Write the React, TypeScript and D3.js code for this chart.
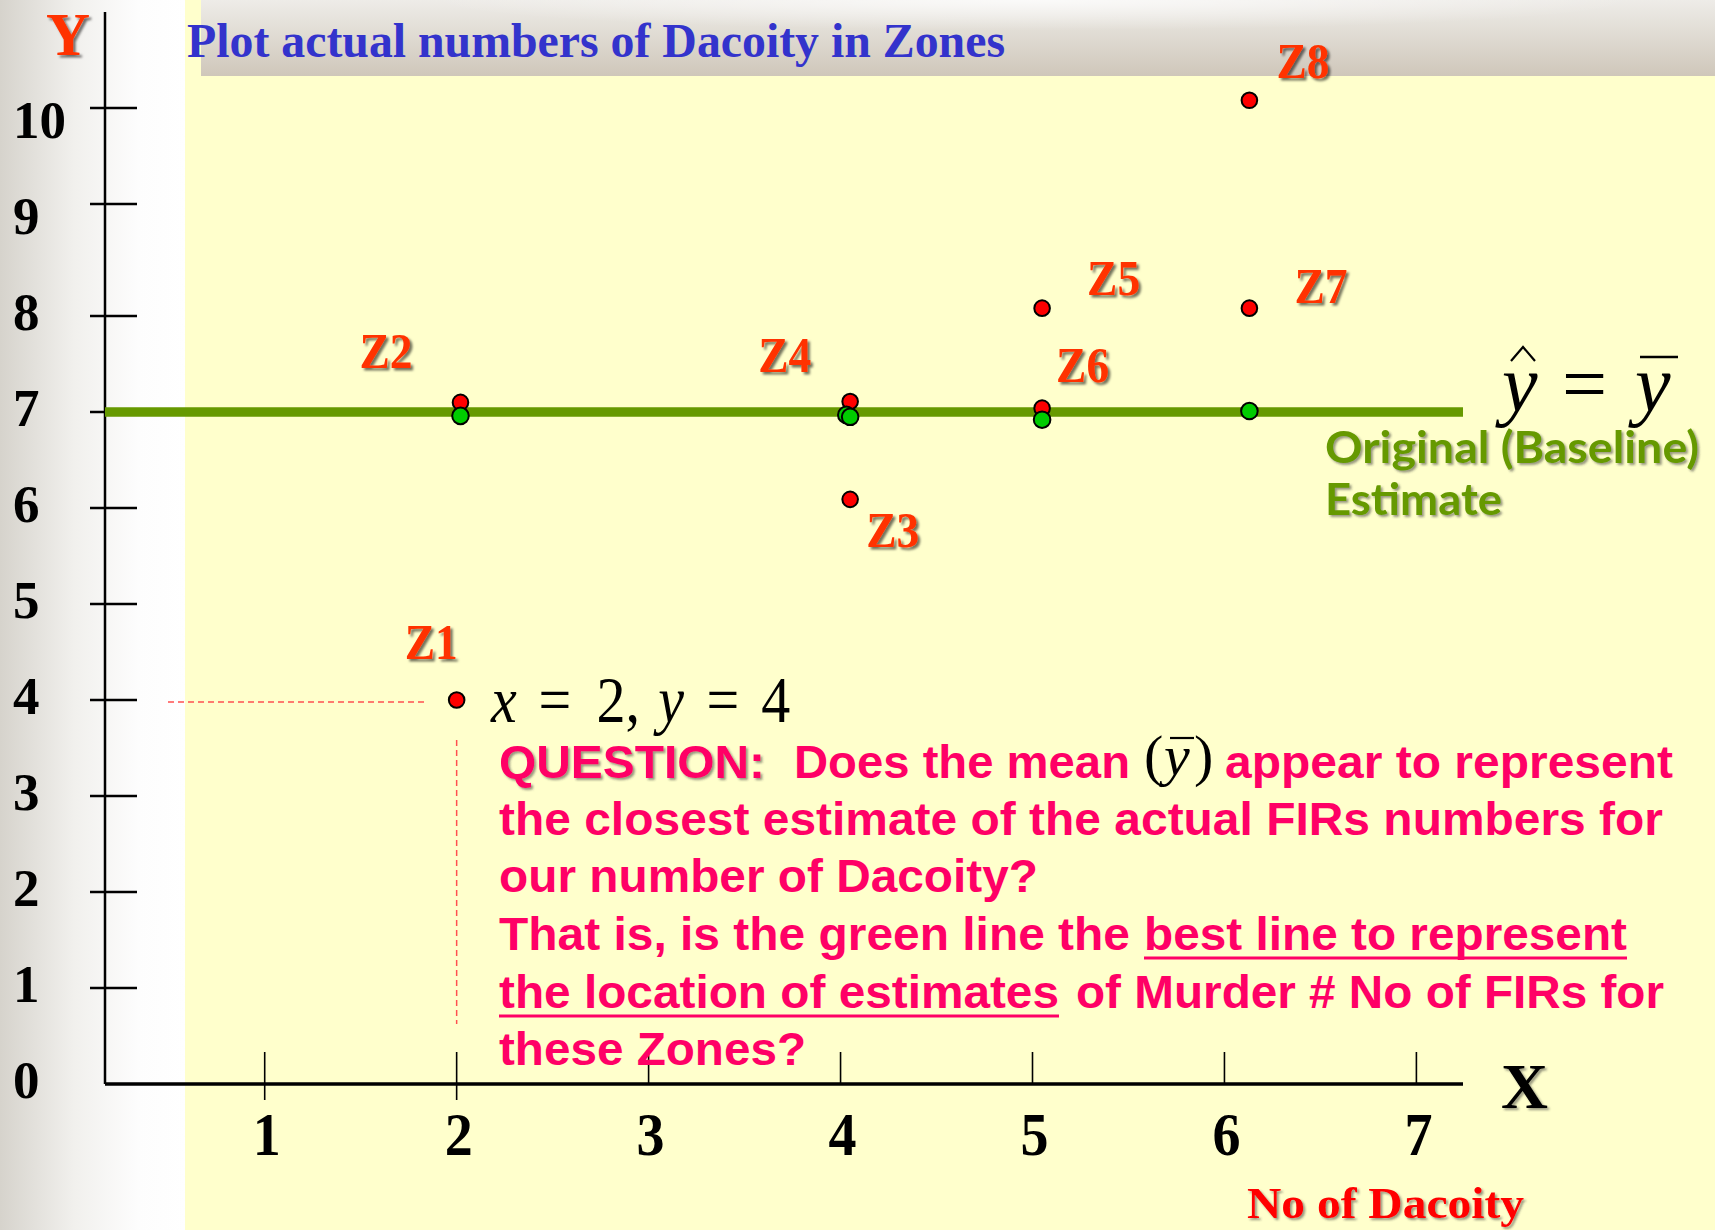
import React from "react";
import * as d3 from "d3";

// Zone observations: number of dacoity (x) against actual FIR count (y)
const zoneNames = ["Z1", "Z2", "Z3", "Z4", "Z5", "Z6", "Z7", "Z8"];
const zoneX = [2, 2.02, 4.05, 4.05, 5.05, 5.05, 6.13, 6.13];
const zoneY = [4, 7.1, 6.09, 7.11, 8.07, 7.04, 8.07, 10.08];

// Baseline estimate points sitting on the mean line
const estimateX = [2.02, 4.03, 4.05, 5.05, 6.13];
const estimateY = [6.96, 6.97, 6.95, 6.92, 7.01];

// Mean of y (baseline estimate)
const meanY = 7;

const xTickValues = [1, 2, 3, 4, 5, 6, 7];
const xTickLabels = ["1", "2", "3", "4", "5", "6", "7"];
const yTickValues = [1, 2, 3, 4, 5, 6, 7, 8, 9, 10];
const yTickLabels = ["0", "1", "2", "3", "4", "5", "6", "7", "8", "9", "10"];

const W = 1715;
const H = 1230;

// label placement relative to each zone's dot (left edge, baseline)
const labelOffsets: [number, number][] = [
  [-52, -41],
  [-101, -34],
  [16, 48],
  [-92, -29],
  [45, -13],
  [14, -26],
  [45, -5],
  [27, -22],
];

const AXIS_LEFT = 105;
const AXIS_RIGHT = 1463;
const AXIS_TOP = 12;

const x = d3.scaleLinear().domain([1, 7]).range([264.7, 1416.4]);
// hand-drawn axis: the upper ticks sit a little closer together
const y = d3.scaleLinear().domain([0, 8, 9, 10]).range([1084, 316, 204, 108]);
// tick numerals are evenly spaced
const yLabel = d3.scaleLinear().domain([0, 10]).range([1098, 138]);

const serif = "'Liberation Serif', 'Times New Roman', serif";
const sans = "'Liberation Sans', Arial, sans-serif";
const comic = "'Comic Sans MS', Lato, 'Open Sans', sans-serif";
const pink = "#FF0066";

export default function App() {
  const y0 = y(0);
  return (
    <svg
      width={W}
      height={H}
      viewBox={`0 0 ${W} ${H}`}
      style={{ position: "fixed", left: 0, top: 0, display: "block" }}
    >
      <defs>
        <linearGradient id="leftStrip" x1="0" x2="1" y1="0" y2="0">
          <stop offset="0" stopColor="#D6D3CC" />
          <stop offset="0.4" stopColor="#F1F0ED" />
          <stop offset="0.75" stopColor="#FDFDFD" />
          <stop offset="1" stopColor="#FFFFFF" />
        </linearGradient>
        <linearGradient id="band" x1="0" x2="0" y1="0" y2="1">
          <stop offset="0" stopColor="#EEECE8" />
          <stop offset="0.55" stopColor="#DDD8CF" />
          <stop offset="1" stopColor="#CFC7BA" />
        </linearGradient>
        <radialGradient id="bandShine" cx="0.55" cy="0" r="0.4">
          <stop offset="0" stopColor="#FFFFFF" stopOpacity="0.75" />
          <stop offset="1" stopColor="#FFFFFF" stopOpacity="0" />
        </radialGradient>
        <filter id="shadow" x="-20%" y="-20%" width="150%" height="150%">
          <feDropShadow dx="2.5" dy="2.5" stdDeviation="1.3" floodColor="#000" floodOpacity="0.55" />
        </filter>
        <filter id="shadowSoft" x="-20%" y="-20%" width="150%" height="150%">
          <feDropShadow dx="2" dy="2" stdDeviation="1" floodColor="#333" floodOpacity="0.5" />
        </filter>
      </defs>

      {/* backdrop */}
      <rect x={0} y={0} width={W} height={H} fill="#FFFFCC" />
      <rect x={0} y={0} width={185} height={H} fill="url(#leftStrip)" />
      <rect x={201} y={0} width={W - 201} height={76} fill="url(#band)" />
      <rect x={201} y={0} width={W - 201} height={76} fill="url(#bandShine)" />

      {/* title */}
      <text
        x={187}
        y={57}
        fontFamily={serif}
        fontWeight="bold"
        fontSize={48}
        fill="#3333CC"
        textLength={818}
        lengthAdjust="spacingAndGlyphs"
      >
        Plot actual numbers of Dacoity in Zones
      </text>

      {/* y axis */}
      <line x1={AXIS_LEFT} x2={AXIS_LEFT} y1={AXIS_TOP} y2={y0} stroke="#000" strokeWidth={2.5} />
      {yTickValues.map((v) => (
        <line key={"yt" + v} x1={90} x2={137} y1={y(v)} y2={y(v)} stroke="#000" strokeWidth={2.5} />
      ))}
      {yTickLabels.map((t, i) => (
        <text
          key={"yl" + t}
          x={13}
          y={yLabel(i)}
          fontFamily={serif}
          fontWeight="bold"
          fontSize={53}
          fill="#000"
        >
          {t}
        </text>
      ))}
      <text
        x={46}
        y={55}
        fontFamily={serif}
        fontWeight="bold"
        fontSize={61}
        fill="#FF3300"
        filter="url(#shadow)"
        textLength={44}
        lengthAdjust="spacingAndGlyphs"
      >
        Y
      </text>

      {/* x axis */}
      <line x1={AXIS_LEFT} x2={AXIS_RIGHT} y1={y0} y2={y0} stroke="#000" strokeWidth={3.5} />
      {xTickValues.map((v) => (
        <line
          key={"xt" + v}
          x1={x(v)}
          x2={x(v)}
          y1={y0 - 32}
          y2={v <= 2 ? y0 + 16 : y0}
          stroke="#000"
          strokeWidth={1.6}
        />
      ))}
      {xTickLabels.map((t, i) => (
        <text
          key={"xl" + t}
          x={x(xTickValues[i]) + 2}
          y={1155}
          textAnchor="middle"
          fontFamily={serif}
          fontWeight="bold"
          fontSize={62}
          fill="#000"
          textLength={28}
          lengthAdjust="spacingAndGlyphs"
        >
          {t}
        </text>
      ))}
      <text
        x={1501}
        y={1108}
        fontFamily={serif}
        fontWeight="bold"
        fontSize={64}
        fill="#000"
        filter="url(#shadowSoft)"
        textLength={47}
        lengthAdjust="spacingAndGlyphs"
      >
        X
      </text>
      <text
        x={1247}
        y={1218}
        fontFamily={serif}
        fontWeight="bold"
        fontSize={45}
        fill="#FF0000"
        filter="url(#shadowSoft)"
        textLength={277}
        lengthAdjust="spacingAndGlyphs"
      >
        No of Dacoity
      </text>

      {/* guide lines for Z1 */}
      <line
        x1={168}
        x2={x(zoneX[0]) - 32}
        y1={y(zoneY[0]) + 2}
        y2={y(zoneY[0]) + 2}
        stroke="#FF5050"
        strokeWidth={1.5}
        strokeDasharray="6 4"
      />
      <line
        x1={x(zoneX[0])}
        x2={x(zoneX[0])}
        y1={y(zoneY[0]) + 40}
        y2={1024}
        stroke="#FF5050"
        strokeWidth={1.5}
        strokeDasharray="6 4"
      />

      {/* mean line */}
      <line
        x1={AXIS_LEFT}
        x2={AXIS_RIGHT}
        y1={y(meanY)}
        y2={y(meanY)}
        stroke="#669900"
        strokeWidth={9.5}
      />

      {/* observed zones */}
      {zoneNames.map((n, i) => (
        <circle
          key={"p" + n}
          cx={x(zoneX[i])}
          cy={y(zoneY[i])}
          r={7.8}
          fill="#FF0000"
          stroke="#000"
          strokeWidth={2}
        />
      ))}
      {/* baseline estimates */}
      {estimateX.map((v, i) => (
        <circle
          key={"e" + i}
          cx={x(v)}
          cy={y(estimateY[i])}
          r={8.3}
          fill="#00CC00"
          stroke="#000"
          strokeWidth={2}
        />
      ))}

      {/* zone labels */}
      {zoneNames.map((n, i) => (
        <text
          key={"zl" + n}
          x={x(zoneX[i]) + labelOffsets[i][0]}
          y={y(zoneY[i]) + labelOffsets[i][1]}
          fontFamily={serif}
          fontWeight="bold"
          fontSize={50}
          fill="#FF3300"
          filter="url(#shadow)"
          textLength={53}
          lengthAdjust="spacingAndGlyphs"
        >
          {n}
        </text>
      ))}

      {/* y-hat = y-bar */}
      <g fontFamily={serif} fontSize={80} fill="#000">
        <text x={1502} y={411} fontStyle="italic">y</text>
        <path d="M1511 361 L1523 347 L1535 361" fill="none" stroke="#000" strokeWidth={2.2} />
        <text x={1562} y={411}>=</text>
        <text x={1635} y={411} fontStyle="italic">y</text>
        <line x1={1640} x2={1678} y1={357} y2={357} stroke="#000" strokeWidth={2.5} />
      </g>
      <g fontFamily={comic} fontWeight="bold" fontSize={44} fill="#669900" filter="url(#shadowSoft)">
        <text x={1325} y={463} textLength={374} lengthAdjust="spacingAndGlyphs">
          Original (Baseline)
        </text>
        <text x={1325} y={515} textLength={177} lengthAdjust="spacingAndGlyphs">
          Estimate
        </text>
      </g>

      {/* Z1 coordinates */}
      <g fontFamily={serif} fontSize={66} fill="#000" transform="translate(491,722) scale(0.88,1)">
        <text x={0} y={0} fontStyle="italic">x</text>
        <text x={54} y={0}>=</text>
        <text x={120} y={0}>2,</text>
        <text x={190} y={0} fontStyle="italic">y</text>
        <text x={245} y={0}>=</text>
        <text x={307} y={0}>4</text>
      </g>

      {/* question */}
      <g fontFamily={sans} fontWeight="bold" fontSize={47} fill={pink}>
        <text x={499} y={778} textLength={266} lengthAdjust="spacingAndGlyphs" filter="url(#shadowSoft)">
          QUESTION:
        </text>
        <text x={794} y={778} textLength={336} lengthAdjust="spacingAndGlyphs">
          Does the mean
        </text>
        <text x={1225} y={778} textLength={448} lengthAdjust="spacingAndGlyphs">
          appear to represent
        </text>
        <text x={499} y={835} textLength={1164} lengthAdjust="spacingAndGlyphs">
          the closest estimate of the actual FIRs numbers for
        </text>
        <text x={499} y={892} textLength={539} lengthAdjust="spacingAndGlyphs">
          our number of Dacoity?
        </text>
        <text x={499} y={950} textLength={631} lengthAdjust="spacingAndGlyphs">
          That is, is the green line the
        </text>
        <text x={1144} y={950} textLength={483} lengthAdjust="spacingAndGlyphs">
          best line to represent
        </text>
        <text x={499} y={1008} textLength={560} lengthAdjust="spacingAndGlyphs">
          the location of estimates
        </text>
        <text x={1076} y={1008} textLength={588} lengthAdjust="spacingAndGlyphs">
          of Murder # No of FIRs for
        </text>
        <text x={499} y={1065} textLength={307} lengthAdjust="spacingAndGlyphs">
          these Zones?
        </text>
      </g>
      <line x1={1144} x2={1627} y1={958} y2={958} stroke={pink} strokeWidth={3} />
      <line x1={499} x2={1059} y1={1016} y2={1016} stroke={pink} strokeWidth={3} />
      <g fontFamily={serif} fontSize={58} fill="#000">
        <text x={1144} y={775}>(</text>
        <text x={1164} y={775} fontStyle="italic">y</text>
        <text x={1194} y={775}>)</text>
        <line x1={1170} x2={1194} y1={738} y2={738} stroke="#000" strokeWidth={2.2} />
      </g>
    </svg>
  );
}
